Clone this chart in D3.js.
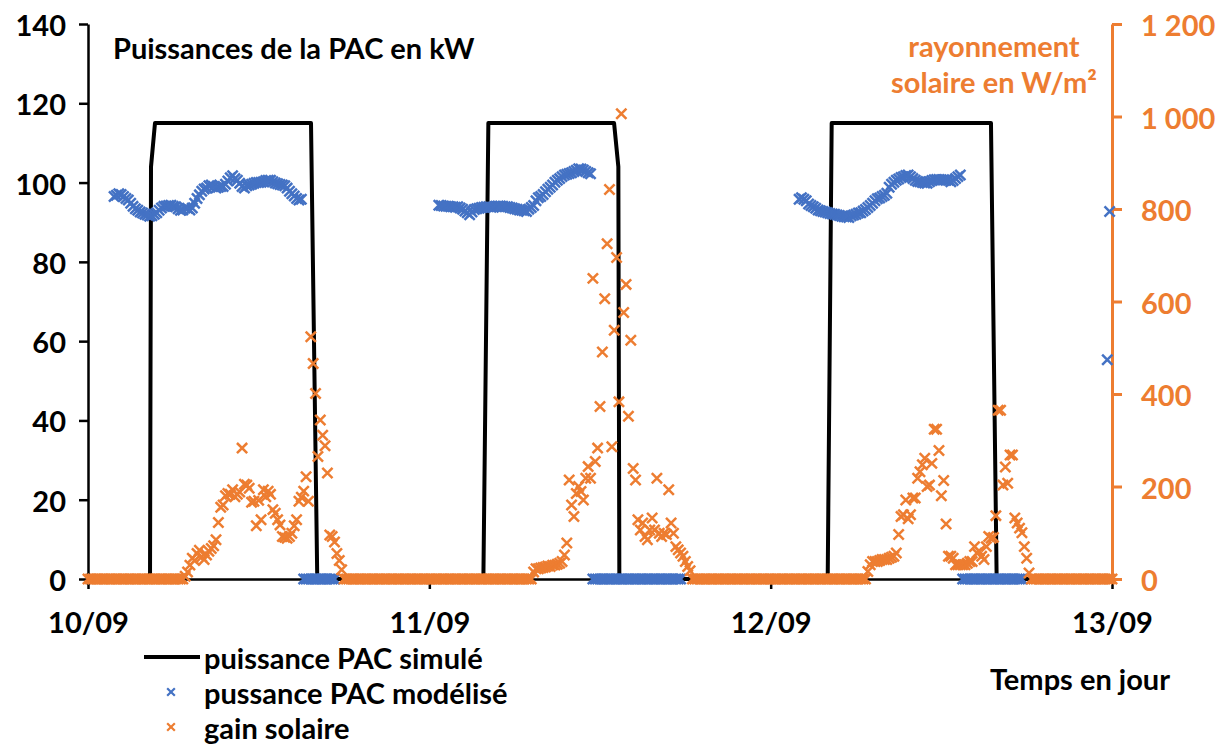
<!DOCTYPE html>
<html>
<head>
<meta charset="utf-8">
<script src="https://cdn.jsdelivr.net/npm/d3@7"></script>
<style>
  html, body { margin: 0; padding: 0; background: #ffffff; }
  svg { display: block; font-family: "Lato", "Open Sans", sans-serif; font-weight: 700; }
</style>
</head>
<body>
<svg id="chart" width="1226" height="747"></svg>
<script>
// ---------------- DATA ----------------
const xTickLabels = ["10/09", "11/09", "12/09", "13/09"];
const leftTicks = [0, 20, 40, 60, 80, 100, 120, 140];
const rightTicks = [0, 200, 400, 600, 800, 1000, 1200];
const seriesNames = ["puissance PAC simulé", "pussance PAC modélisé", "gain solaire"];

// puissance PAC simulé (kW): breakpoints in hours from 10/09 00:00
const simHours  = [0, 4.36, 4.43, 4.71, 15.68, 16.12, 27.80, 28.15, 36.99, 37.29, 37.36, 52.01, 52.29, 63.49, 63.89, 72];
const simValues = [0, 0,    104,  115,  115,   0,     0,     115,   115,   104,   0,     0,     115,   115,   0,     0];

// gain solaire (W/m²), one value every 10 minutes, 144 values per day
const solarDay1 = [
  0,0,0,0,0,0,0,0,0,0,0,0,
  0,0,0,0,0,0,0,0,0,0,0,0,
  0,0,0,0,0,0,0,0,0,0,0,0,
  0,0,0,0,0,6,15,30,45,40,55,62,
  48,42,52,60,66,72,85,122,155,160,180,185,
  183,193,178,183,188,283,205,203,196,166,168,115,
  170,128,193,178,190,183,150,142,128,117,92,90,
  88,92,99,115,128,168,177,190,221,168,524,466,
  401,265,344,311,288,229,95,92,80,55,40,20,
  0,0,0,0,0,0,0,0,0,0,0,0,
  0,0,0,0,0,0,0,0,0,0,0,0,
  0,0,0,0,0,0,0,0,0,0,0,0
];
const solarDay2 = [
  0,0,0,0,0,0,0,0,0,0,0,0,
  0,0,0,0,0,0,0,0,0,0,0,0,
  0,0,0,0,0,0,0,0,0,0,0,0,
  0,0,0,0,0,0,0,0,15,22,22,24,
  25,26,28,27,30,30,32,34,38,52,78,214,
  160,135,185,200,189,171,218,243,218,650,254,283,
  373,491,606,725,842,286,538,695,383,1006,576,637,
  352,516,239,214,128,106,121,92,85,106,132,106,
  218,99,92,99,96,193,121,99,70,63,56,49,
  38,27,18,0,0,0,0,0,0,0,0,0,
  0,0,0,0,0,0,0,0,0,0,0,0,
  0,0,0,0,0,0,0,0,0,0,0,0
];
const solarDay3 = [
  0,0,0,0,0,0,0,0,0,0,0,0,
  0,0,0,0,0,0,0,0,0,0,0,0,
  0,0,0,0,0,0,0,0,0,0,0,0,
  0,0,0,0,0,16,31,38,38,38,40,42,
  42,42,45,47,49,56,96,135,139,171,130,139,
  175,175,218,232,247,261,200,203,250,324,324,278,
  180,213,119,49,49,45,31,31,31,31,31,34,
  38,38,70,56,60,49,42,70,92,88,90,137,
  365,365,203,242,207,268,268,132,121,110,100,70,
  45,13,0,0,0,0,0,0,0,0,0,0,
  0,0,0,0,0,0,0,0,0,0,0,0,
  0,0,0,0,0,0,0,0,0,0,0,0
];
const solarEnd = [0]; // 13/09 00:00

// pussance PAC modélisé (kW), 10-minute values, segments with start minute
const modelStartMinutes = [110, 1480, 3000, 4300];
const modelDay1 = [
  96.5,96.8,97.2,97.0,96.5,96.0,95.6,94.8,94.0,93.4,
  93.0,92.6,92.3,92.0,91.8,91.5,91.6,92.0,92.4,93.0,
  93.6,94.0,94.1,94.2,94.3,94.0,93.9,93.4,93.0,93.1,
  93.6,93.5,93.1,93.6,94.8,96.0,96.9,97.8,98.4,98.6,
  99.2,99.4,99.0,98.6,98.8,99.0,99.0,99.6,100.4,101.2,
  101.7,101.0,100.6,99.8,99.0,98.6,99.2,99.4,99.6,99.8,
  100.0,100.0,100.1,100.2,100.5,100.6,100.6,100.2,99.9,99.7,
  99.5,99.4,99.2,98.6,97.8,97.2,96.6,96.0,95.6,95.8,
  0,0,0,0,0,0,0,0,0,0,0,0,0,0
];
const modelDay2 = [
  94.3,94.2,94.1,94.0,94.0,93.9,93.9,93.8,93.9,93.6,
  93.3,92.8,92.4,91.9,92.6,93.2,93.4,93.5,93.7,93.8,
  93.9,93.9,93.8,93.8,94.0,94.1,94.1,94.0,93.9,93.9,
  93.7,93.6,93.4,93.3,93.1,93.0,92.9,92.7,93.3,93.7,
  94.2,95.4,96.2,96.5,97.0,97.7,98.3,98.8,99.4,100.1,
  100.6,101.0,101.5,101.9,102.1,102.3,102.5,102.8,103.1,103.5,
  103.4,103.2,102.8,102.5,102.2,
  0,0,0,0,0,0,0,0,0,0,0,0,0,0,0,0,0,0,0,
  0,0,0,0,0,0,0,0,0,0,0,0,0,0,0,0,0,0,0
];
const modelDay3 = [
  95.8,96.2,95.8,95.4,94.6,94.2,93.9,93.5,93.1,92.9,
  92.7,92.6,92.4,92.2,92.1,92.0,91.8,91.7,91.5,91.4,
  91.3,91.2,91.6,91.8,92.0,92.3,92.4,92.8,93.2,93.7,
  94.2,94.8,95.4,95.9,96.1,96.5,96.8,97.3,98.8,99.6,
  100.1,100.6,100.9,101.3,101.5,101.8,101.9,101.5,101.0,100.6,
  100.3,100.2,100.0,99.9,99.8,100.2,100.5,100.7,100.8,100.8,
  100.7,100.7,100.6,100.6,100.2,100.5,101.0,101.5,101.9,
  0,0,0,0,0,0,0,0,0,0,0,0,0,
  0,0,0,0,0,0,0,0,0,0,0,0,0
];
const modelEnd = [55.3, 92.7];

// ---------------- CHART ----------------
const BLUE = "#4472C4", ORANGE = "#ED7D31", BLACK = "#000000";
const FONT = 29;
const t0 = new Date(2023, 8, 10, 0, 0);
const atMin = m => new Date(t0.getTime() + m * 60000);

const svg = d3.select("#chart");

const x = d3.scaleTime().domain([t0, atMin(72 * 60)]).range([88, 1112]);
const yL = d3.scaleLinear().domain([0, 140]).range([579, 24]);
const yR = d3.scaleLinear().domain([0, 1200]).range([579, 24]);

const fmtSpace = d3.formatLocale({decimal: ",", thousands: "\u00a0", grouping: [3], currency: ["", ""]}).format(",");

// build point lists
const solarAll = solarDay1.concat(solarDay2, solarDay3, solarEnd);
const solarPts = solarAll.map((v, i) => ({t: atMin(i * 10), v}));
const modelSegs = [modelDay1, modelDay2, modelDay3, modelEnd];
const modelPts = [];
modelSegs.forEach((seg, s) => seg.forEach((v, i) => modelPts.push({t: atMin(modelStartMinutes[s] + i * 10), v})));
const simPts = simHours.map((h, i) => ({t: atMin(h * 60), v: simValues[i]}));

function styleText(sel, color) {
  sel.attr("fill", color).style("font-size", FONT + "px").style("font-family", "Lato").style("font-weight", 700);
}

// X axis
const gx = svg.append("g").attr("transform", "translate(0,579)")
  .call(d3.axisBottom(x).tickValues(xTickLabels.map((_, i) => atMin(i * 1440)))
    .tickFormat((d, i) => xTickLabels[i]).tickSize(10).tickSizeOuter(0));
gx.select(".domain").attr("stroke", BLACK).attr("stroke-width", 2.5);
gx.selectAll(".tick line").attr("stroke", BLACK).attr("stroke-width", 2.5);
styleText(gx.selectAll(".tick text").attr("y", 42).attr("dy", null).attr("dominant-baseline", "central"), BLACK);

// Left axis
const gl = svg.append("g").attr("transform", "translate(88,0)")
  .call(d3.axisLeft(yL).tickValues(leftTicks).tickSize(9).tickPadding(13).tickSizeOuter(0));
gl.select(".domain").attr("stroke", BLACK).attr("stroke-width", 2.5);
gl.selectAll(".tick line").attr("stroke", BLACK).attr("stroke-width", 2.5);
styleText(gl.selectAll(".tick text").attr("dy", null).attr("dominant-baseline", "central"), BLACK);

// Right axis
const gr = svg.append("g").attr("transform", "translate(1112,0)")
  .call(d3.axisRight(yR).tickValues(rightTicks).tickSize(10).tickPadding(19).tickSizeOuter(0).tickFormat(fmtSpace));
gr.select(".domain").attr("stroke", ORANGE).attr("stroke-width", 3);
gr.selectAll(".tick line").attr("stroke", ORANGE).attr("stroke-width", 3);
styleText(gr.selectAll(".tick text").attr("dy", null).attr("dominant-baseline", "central"), ORANGE);

// simulated line
svg.append("path").datum(simPts)
  .attr("fill", "none").attr("stroke", BLACK).attr("stroke-width", 4).attr("stroke-linejoin", "round")
  .attr("d", d3.line().x(d => x(d.t)).y(d => yL(d.v)));

const cross = d3.symbol().type(d3.symbolX).size(70)();

// modelled points
svg.append("g").selectAll("path").data(modelPts).join("path")
  .attr("d", cross).attr("transform", d => `translate(${x(d.t)},${yL(d.v)})`)
  .attr("fill", "none").attr("stroke", BLUE).attr("stroke-width", 2.5);

// solar points
svg.append("g").selectAll("path").data(solarPts).join("path")
  .attr("d", cross).attr("transform", d => `translate(${x(d.t)},${yR(d.v)})`)
  .attr("fill", "none").attr("stroke", ORANGE).attr("stroke-width", 2.5);

// titles
styleText(svg.append("text").attr("x", 113).attr("y", 59).text("Puissances de la PAC en kW"), BLACK);
styleText(svg.append("text").attr("x", 994).attr("y", 57).attr("text-anchor", "middle").text("rayonnement"), ORANGE);
styleText(svg.append("text").attr("x", 994).attr("y", 93).attr("text-anchor", "middle").text("solaire en W/m²"), ORANGE);
styleText(svg.append("text").attr("x", 1170).attr("y", 690).attr("text-anchor", "end").text("Temps en jour"), BLACK);

// legend
const leg = svg.append("g");
const rowsY = [657, 692, 727];
leg.append("line").attr("x1", 144).attr("x2", 200).attr("y1", rowsY[0]).attr("y2", rowsY[0])
  .attr("stroke", BLACK).attr("stroke-width", 4);
leg.append("path").attr("d", d3.symbol().type(d3.symbolX).size(40)()).attr("transform", `translate(171,${rowsY[1]})`)
  .attr("fill", "none").attr("stroke", BLUE).attr("stroke-width", 2.2);
leg.append("path").attr("d", d3.symbol().type(d3.symbolX).size(40)()).attr("transform", `translate(171,${rowsY[2]})`)
  .attr("fill", "none").attr("stroke", ORANGE).attr("stroke-width", 2.2);
seriesNames.forEach((n, i) => {
  styleText(leg.append("text").attr("x", 204).attr("y", rowsY[i]).attr("dominant-baseline", "central").text(n), BLACK);
});
</script>
</body>
</html>
